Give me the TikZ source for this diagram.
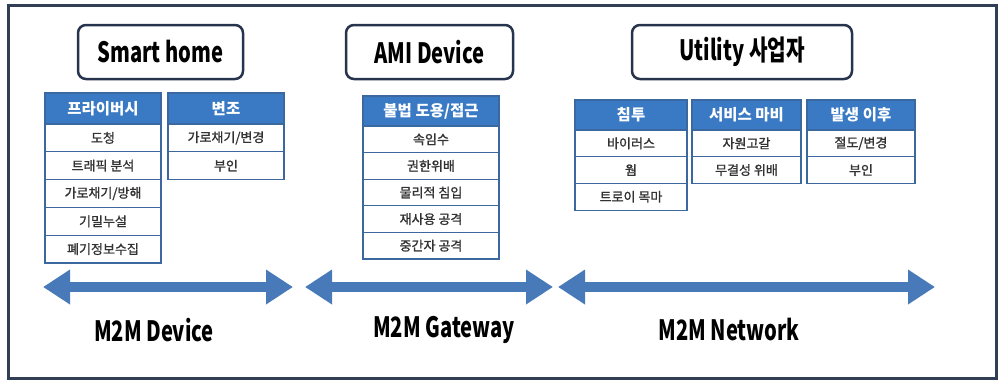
\documentclass[tikz,border=0pt]{standalone}
\usepackage{fontspec}
\usepackage{xcolor}
\usepackage{tikz}
\usetikzlibrary{arrows.meta, positioning}
\setmainfont{Noto Sans CJK KR}
\newfontfamily\condfont{Noto Sans CJK KR}[FakeStretch=0.72]
\newfontfamily\cellfont{Noto Sans CJK KR}[FakeBold=1.2]
\definecolor{framegray}{RGB}{48,62,86}
\definecolor{navybox}{RGB}{38,52,78}
\definecolor{headblue}{RGB}{58,122,196}
\definecolor{cellblue}{RGB}{60,104,160}
\definecolor{arrowblue}{RGB}{72,122,186}
\definecolor{textgray}{RGB}{50,50,50}

\begin{document}
\begin{tikzpicture}[
    x=1pt, y=-1pt,
    titlebox/.style={rectangle, draw=navybox, line width=2.5pt, rounded corners=8pt, fill=white, font=\condfont\bfseries\fontsize{28}{32}\selectfont},
    head/.style={rectangle, draw=cellblue, fill=headblue, text=white, line width=1.2pt, inner sep=0pt, outer sep=0pt, font=\bfseries\fontsize{15.5}{18}\selectfont},
    cell/.style={rectangle, draw=cellblue, fill=white, text=textgray, line width=1.2pt, inner sep=0pt, outer sep=0pt, font=\cellfont\fontsize{13}{15}\selectfont},
    band/.style={arrowblue, line width=10pt, {Triangle[length=27pt, width=33pt]}-{Triangle[length=27pt, width=33pt]}},
    layer/.style={font=\condfont\bfseries\fontsize{28}{32}\selectfont, text=black}
]
    \useasboundingbox (0,0) rectangle (999,384);

    % Frame
    \draw[framegray, line width=3pt] (8,5) rectangle (996,378);

    % Titles
    \node[titlebox, minimum width=165pt, minimum height=54pt] (home) at (160.5,52) {Smart home};
    \node[titlebox, minimum width=167pt, minimum height=54pt] (ami) at (429.5,52) {AMI Device};
    \node[titlebox, minimum width=220pt, minimum height=54pt] (util) at (742,52) {Utility 사업자};

    % Smart home tables
    \node[head, minimum width=116pt, minimum height=31pt] (priv) at (103,108.5) {프라이버시};
    \node[cell, minimum width=116pt, minimum height=27.8pt, below=0pt of priv] (priv1) {도청};
    \node[cell, minimum width=116pt, minimum height=27.8pt, below=0pt of priv1] (priv2) {트래픽 분석};
    \node[cell, minimum width=116pt, minimum height=27.8pt, below=0pt of priv2] (priv3) {가로채기/방해};
    \node[cell, minimum width=116pt, minimum height=27.8pt, below=0pt of priv3] (priv4) {기밀누설};
    \node[cell, minimum width=116pt, minimum height=27.8pt, below=0pt of priv4] (priv5) {폐기정보수집};

    \node[head, minimum width=116pt, minimum height=31pt] (forge) at (226,108.5) {변조};
    \node[cell, minimum width=116pt, minimum height=27.8pt, below=0pt of forge] (forge1) {가로채기/변경};
    \node[cell, minimum width=116pt, minimum height=27.8pt, below=0pt of forge1] (forge2) {부인};

    % AMI table
    \node[head, minimum width=136pt, minimum height=30pt] (abuse) at (431,111) {불법 도용/접근};
    \node[cell, minimum width=136pt, minimum height=26.6pt, below=0pt of abuse] (abuse1) {속임수};
    \node[cell, minimum width=136pt, minimum height=26.6pt, below=0pt of abuse1] (abuse2) {권한위배};
    \node[cell, minimum width=136pt, minimum height=26.6pt, below=0pt of abuse2] (abuse3) {물리적 침입};
    \node[cell, minimum width=136pt, minimum height=26.6pt, below=0pt of abuse3] (abuse4) {재사용 공격};
    \node[cell, minimum width=136pt, minimum height=26.6pt, below=0pt of abuse4] (abuse5) {중간자 공격};

    % Utility tables
    \node[head, minimum width=112pt, minimum height=30pt] (intr) at (631,115) {침투};
    \node[cell, minimum width=112pt, minimum height=26.7pt, below=0pt of intr] (intr1) {바이러스};
    \node[cell, minimum width=112pt, minimum height=26.7pt, below=0pt of intr1] (intr2) {웜};
    \node[cell, minimum width=112pt, minimum height=26.7pt, below=0pt of intr2] (intr3) {트로이 목마};

    \node[head, minimum width=109pt, minimum height=30pt] (dos) at (746.5,115) {서비스 마비};
    \node[cell, minimum width=109pt, minimum height=26.7pt, below=0pt of dos] (dos1) {자원고갈};
    \node[cell, minimum width=109pt, minimum height=26.7pt, below=0pt of dos1] (dos2) {무결성 위배};

    \node[head, minimum width=108pt, minimum height=30pt] (after) at (861,115) {발생 이후};
    \node[cell, minimum width=108pt, minimum height=26.7pt, below=0pt of after] (after1) {절도/변경};
    \node[cell, minimum width=108pt, minimum height=26.7pt, below=0pt of after1] (after2) {부인};

    % Layer arrows
    \coordinate (dev-l) at (43,287);
    \coordinate (dev-r) at (293,287);
    \coordinate (gw-l) at (305,287);
    \coordinate (gw-r) at (553,287);
    \coordinate (net-l) at (558,287);
    \coordinate (net-r) at (935,287);
    \draw[band] (dev-l) -- (dev-r);
    \draw[band] (gw-l) -- (gw-r);
    \draw[band] (net-l) -- (net-r);

    \node[layer] (device) at (154,330) {M2M Device};
    \node[layer] (gateway) at (444,330) {M2M Gateway};
    \node[layer] (network) at (729,330) {M2M Network};
\end{tikzpicture}
\end{document}
